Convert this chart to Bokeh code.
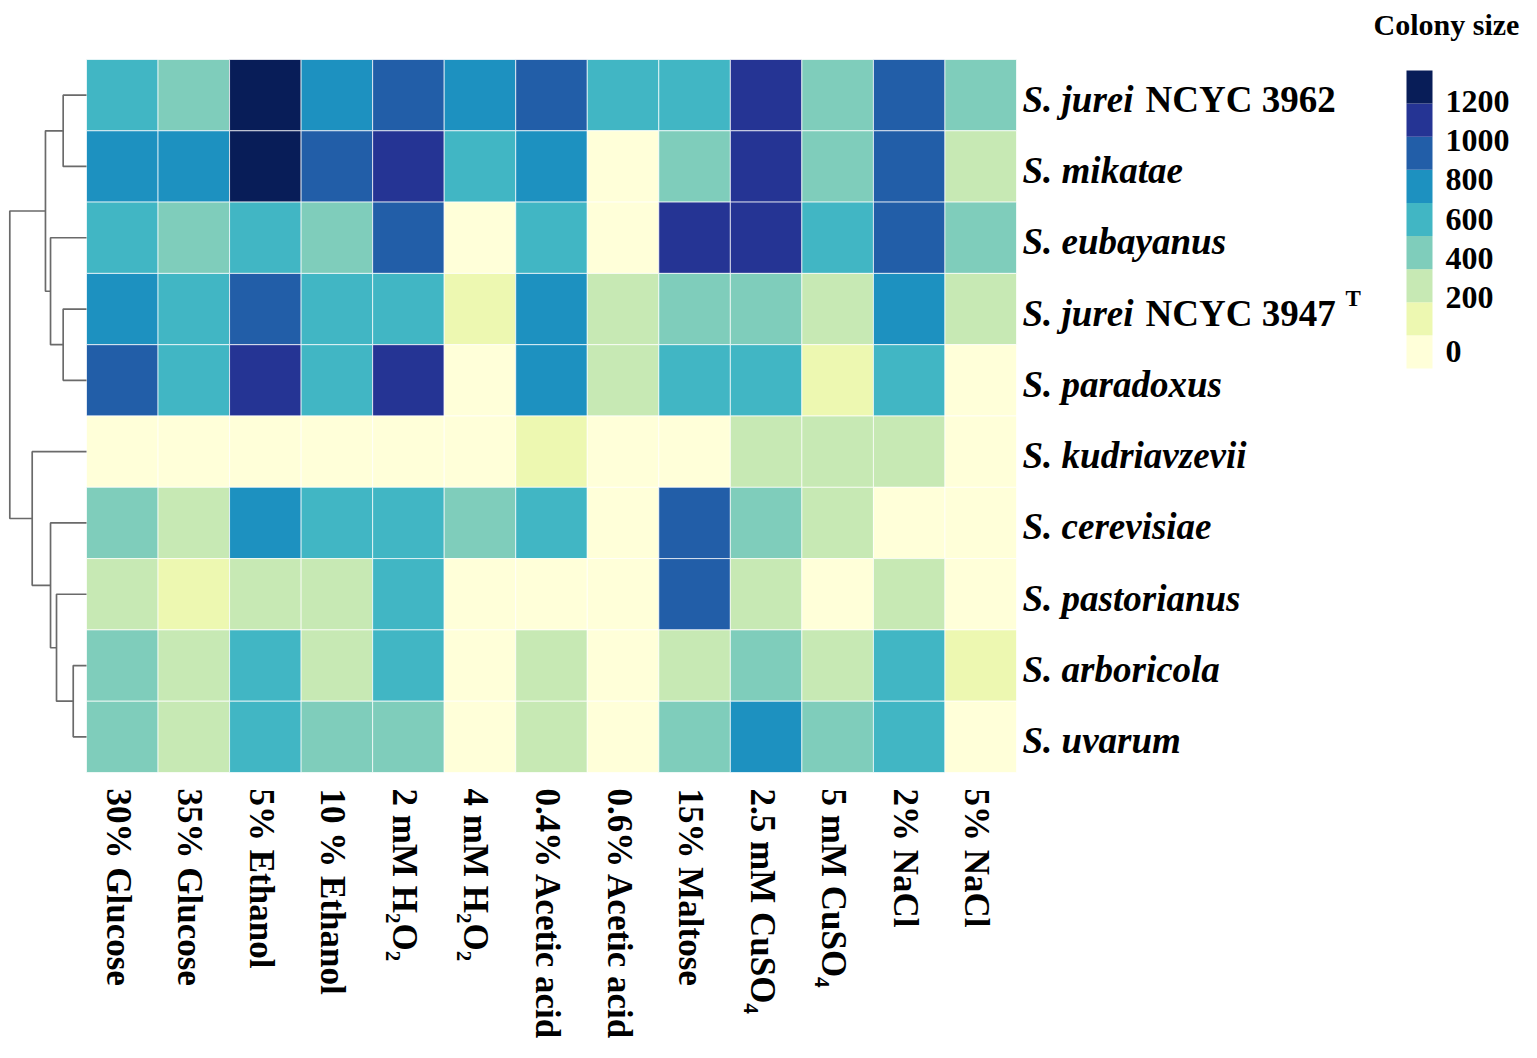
import numpy as np
from bokeh.plotting import figure
from bokeh.models import Range1d, LinearColorMapper, ColumnDataSource
from bokeh.transform import transform
from bokeh.palettes import YlGnBu9
from bokeh.core.properties import value
from bokeh.embed import file_html
from bokeh.resources import INLINE

# ---------------- data ----------------
conditions = ["30%  Glucose", "35%  Glucose", "5% Ethanol", "10 % Ethanol",
              "2 mM H\u2082O\u2082", "4 mM H\u2082O\u2082", "0.4% Acetic acid",
              "0.6% Acetic acid", "15% Maltose", "2.5 mM CuSO\u2084",
              "5 mM CuSO\u2084", "2% NaCl", "5% NaCl"]

species_italic = ["S. jurei", "S. mikatae", "S. eubayanus", "S. jurei", "S. paradoxus",
                  "S. kudriavzevii", "S. cerevisiae", "S. pastorianus", "S. arboricola",
                  "S. uvarum"]
species_strain = ["NCYC 3962", "", "", "NCYC 3947", "", "", "", "", "", ""]
species_sup = ["", "", "", "T", "", "", "", "", "", ""]

# colony size per species (rows) and condition (columns)
jurei_3962 = [600, 420, 1280, 760, 930, 760, 930, 600, 600, 1100, 420, 930, 420]
mikatae = [760, 760, 1280, 930, 1100, 600, 760, 0, 420, 1100, 420, 930, 250]
eubayanus = [600, 420, 600, 420, 930, 0, 600, 0, 1100, 1100, 600, 930, 420]
jurei_3947 = [760, 600, 930, 600, 600, 100, 760, 250, 420, 420, 250, 760, 250]
paradoxus = [930, 600, 1100, 600, 1100, 0, 760, 250, 600, 600, 100, 600, 0]
kudriavzevii = [0, 0, 0, 0, 0, 0, 100, 0, 0, 250, 250, 250, 0]
cerevisiae = [420, 250, 760, 600, 600, 420, 600, 0, 930, 420, 250, 0, 0]
pastorianus = [250, 100, 250, 250, 600, 0, 0, 0, 930, 250, 0, 250, 0]
arboricola = [420, 250, 600, 250, 600, 0, 250, 0, 250, 420, 250, 600, 100]
uvarum = [420, 250, 600, 420, 420, 0, 250, 0, 420, 760, 420, 600, 0]
rows = [jurei_3962, mikatae, eubayanus, jurei_3947, paradoxus,
        kudriavzevii, cerevisiae, pastorianus, arboricola, uvarum]

# hierarchical clustering of the species (leaf ids 0-9, clusters 10+),
# relative merge distance
merge_left = [0, 3, 2, 10, 8, 7, 6, 5, 13]
merge_right = [1, 4, 11, 12, 9, 14, 15, 16, 17]
merge_dist = [0.304, 0.304, 0.469, 0.535, 0.173, 0.391, 0.469, 0.708, 1.0]

cb_ticks = [0, 200, 400, 600, 800, 1000, 1200]

# ---------------- layout ----------------
FIG_W, FIG_H = 1521, 1042
HM_L, HM_R, HM_T, HM_B = 86, 1016, 59, 772
ncol, nrow = len(conditions), len(rows)
CW = (HM_R - HM_L) / ncol
CH = (HM_B - HM_T) / nrow

def xd(px):
    return (px - HM_L) / CW - 0.5

def yd(py):
    return (py - HM_T) / CH - 0.5

p = figure(width=FIG_W, height=FIG_H, output_backend="svg", toolbar_location=None,
           x_range=Range1d(xd(0), xd(FIG_W)), y_range=Range1d(yd(FIG_H), yd(0)),
           min_border=0, background_fill_color="white", border_fill_color="white")
p.axis.visible = False
p.grid.visible = False
p.outline_line_color = None

palette = list(reversed(YlGnBu9))
LOW, HIGH = -165, 1360
mapper = LinearColorMapper(palette=palette, low=LOW, high=HIGH)

# heatmap
xs, ys, vs = [], [], []
for r, row in enumerate(rows):
    for c, v in enumerate(row):
        xs.append(c)
        ys.append(r)
        vs.append(v)
src = ColumnDataSource(dict(x=xs, y=ys, v=vs))
p.rect(x="x", y="y", width=1, height=1, source=src,
       fill_color=transform("v", mapper), line_color="white", line_width=1, line_alpha=0.7)

# dendrogram
DEND_W = (HM_L - 9.3) / CW
node_y = {i: float(i) for i in range(nrow)}
node_x = {i: -0.5 for i in range(nrow)}
dxs, dys = [], []
for k, (a, b, d) in enumerate(zip(merge_left, merge_right, merge_dist)):
    nid = nrow + k
    mx = -0.5 - d * DEND_W
    dxs.append([node_x[a], mx, mx, node_x[b]])
    dys.append([node_y[a], node_y[a], node_y[b], node_y[b]])
    node_x[nid] = mx
    node_y[nid] = (node_y[a] + node_y[b]) / 2
p.multi_line(xs=dxs, ys=dys, line_color="#6a6a6a", line_width=1.7)

SERIF = value("Liberation Serif")

# species labels
lab_x = 12.5 + 6 / CW
p.text(x=[lab_x] * nrow, y=[r + 4 / CH for r in range(nrow)], text=species_italic,
       text_font=SERIF, text_font_style="bold italic", text_font_size="37px",
       text_align="left", text_baseline="middle", text_color="black")
sx = [lab_x for s in species_strain if s]
sy = [r + 4 / CH for r, s in enumerate(species_strain) if s]
st = [s for s in species_strain if s]
p.text(x=sx, y=sy, text=st, x_offset=123, text_font=SERIF, text_font_style="bold",
       text_font_size="37px", text_align="left", text_baseline="middle", text_color="black")
supx = [lab_x for s in species_sup if s]
supy = [r - 11 / CH for r, s in enumerate(species_sup) if s]
supt = [s for s in species_sup if s]
p.text(x=supx, y=supy, text=supt, x_offset=323, text_font=SERIF, text_font_style="bold",
       text_font_size="23px", text_align="left", text_baseline="middle", text_color="black")

# condition labels (rotated, reading downward)
p.text(x=[c - 4 / CW for c in range(ncol)], y=[nrow - 0.5 + 16 / CH] * ncol, text=conditions,
       angle=-np.pi / 2, text_font=SERIF, text_font_style="bold", text_font_size="35px",
       text_align="left", text_baseline="middle", text_color="black")

# colour bar
CB_L, CB_R, CB_T, CB_B = 1406, 1432, 70, 368
def v2y(v):
    return yd(CB_B - (v - LOW) * (CB_B - CB_T) / (HIGH - LOW))
bw = (HIGH - LOW) / len(palette)
edges = [LOW + k * bw for k in range(len(palette) + 1)]
p.quad(left=[xd(CB_L)] * len(palette), right=[xd(CB_R)] * len(palette),
       bottom=[v2y(e) for e in edges[:-1]], top=[v2y(e) for e in edges[1:]],
       fill_color=palette, line_color=None)
first_center = (edges[0] + edges[1]) / 2
tick_pos = [v2y(first_center) if t <= edges[1] else v2y(t) for t in cb_ticks]
p.text(x=[xd(CB_R + 13)] * len(cb_ticks), y=tick_pos, text=[str(t) for t in cb_ticks],
       text_font=SERIF, text_font_style="bold", text_font_size="32px",
       text_align="left", text_baseline="middle", text_color="black")
p.text(x=[xd(1446)], y=[yd(24)], text=["Colony size"], text_font=SERIF,
       text_font_style="bold", text_font_size="30px", text_align="center",
       text_baseline="middle", text_color="black")

open("out.html", "w").write(file_html(p, INLINE))
